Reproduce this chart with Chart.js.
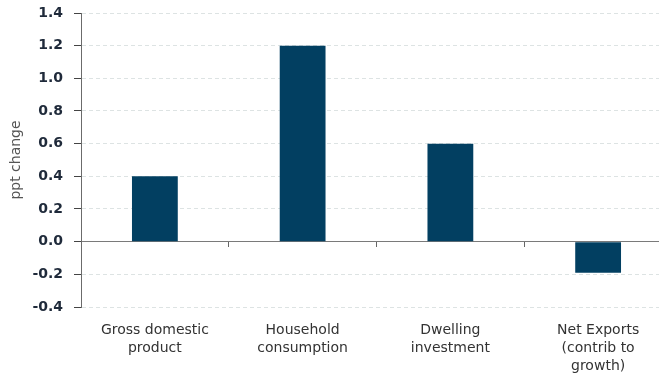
<!DOCTYPE html>
<html>
<head>
<meta charset="utf-8">
<script src="https://cdn.jsdelivr.net/npm/chart.js@4"></script>
<style>
  body { margin: 0; background: #fff; overflow: hidden; }
  #wrap { width: 676px; height: 380px; }
</style>
</head>
<body>
<div id="wrap"><canvas id="gdp-chart"></canvas></div>
<script>
const categories = [
    ['Gross domestic', 'product'],
    ['Household', 'consumption'],
    ['Dwelling', 'investment'],
    ['Net Exports', '(contrib to', 'growth)']
];
const pptChange = [0.4, 1.2, 0.6, -0.19];
const yTicks = [1.4, 1.2, 1.0, 0.8, 0.6, 0.4, 0.2, 0.0, -0.2, -0.4];

document.addEventListener('DOMContentLoaded', function() {
    const ctx = document.getElementById('gdp-chart').getContext('2d');
    Chart.defaults.font.family = '"DejaVu Sans", Verdana, sans-serif';

    new Chart(ctx, {
        type: 'bar',
        data: {
            labels: categories,
            datasets: [{
                data: pptChange,
                backgroundColor: '#023f61',
                categoryPercentage: 1,
                barPercentage: 0.31
            }]
        },
        options: {
            responsive: true,
            maintainAspectRatio: false,
            animation: false,
            layout: { padding: { top: 13, right: 4, bottom: 0, left: 0 } },
            plugins: { legend: { display: false }, tooltip: { enabled: false } },
            scales: {
                x: {
                    grid: { display: false, drawTicks: false },
                    border: { display: false },
                    ticks: {
                        padding: 14,
                        color: '#333',
                        font: { size: 14, lineHeight: 1.3 },
                        maxRotation: 0
                    },
                    afterFit: function(scale) { scale.height = 73; }
                },
                x2: {
                    type: 'category',
                    position: { y: 0 },
                    offset: true,
                    grid: { offset: true, drawOnChartArea: false, tickLength: 5, tickColor: '#666' },
                    border: { color: '#7a7a7a', width: 1 },
                    ticks: { display: false }
                },
                y: {
                    min: -0.4,
                    max: 1.4,
                    afterBuildTicks: function(scale) {
                        scale.ticks = yTicks.map(v => ({ value: v }));
                    },
                    grid: {
                        color: '#dde3e3',
                        tickLength: 7,
                        tickColor: '#444',
                        tickWidth: 1,
                        tickBorderDash: []
                    },
                    border: { display: true, color: '#6b6b6b', width: 1, dash: [4, 3] },
                    ticks: {
                        padding: 11,
                        color: '#1f2a3a',
                        font: { size: 14, weight: 'bold' },
                        callback: v => v.toFixed(1)
                    },
                    title: {
                        display: true,
                        text: 'ppt change',
                        color: '#555',
                        font: { size: 14 },
                        padding: { top: 8, bottom: 0 }
                    },
                    afterFit: function(scale) {
                        scale.width = 81;
                        scale.paddingTop = 0;
                        scale.paddingBottom = 0;
                    }
                }
            }
        }
    });
});
</script>
</body>
</html>
